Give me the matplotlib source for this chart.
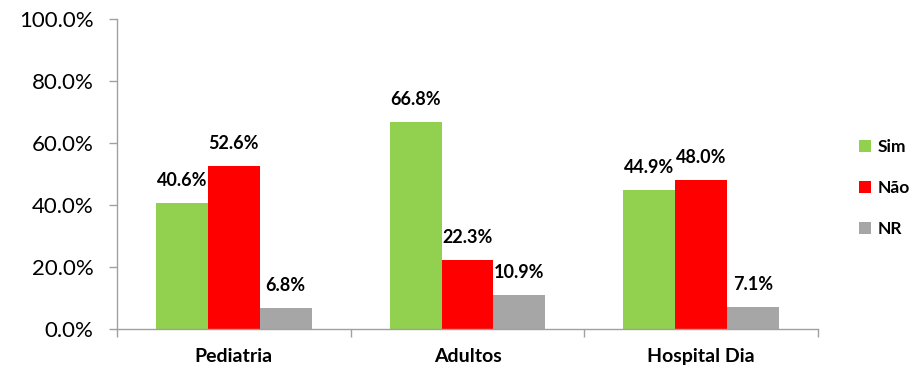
import matplotlib
matplotlib.use("Agg")
import matplotlib.pyplot as plt
import numpy as np
from matplotlib.ticker import FuncFormatter, FixedLocator

plt.rcParams['font.family'] = ['Lato', 'DejaVu Sans']

categories = ["Pediatria", "Adultos", "Hospital Dia"]
series_names = ["Sim", "Não", "NR"]
sim = [40.6, 66.8, 44.9]
nao = [52.6, 22.3, 48.0]
nr = [6.8, 10.9, 7.1]
colors = ["#92D050", "#FF0000", "#A6A6A6"]

fig = plt.figure(figsize=(9.15, 3.67), dpi=100)
ax = fig.add_axes([117/915, 1-329/367, (818-117)/915, (329-19)/367])

x = np.arange(len(categories))
w = 52/234
handles = []
for i, (vals, name, c) in enumerate(zip([sim, nao, nr], series_names, colors)):
    pos = x + (i - 1) * w
    b = ax.bar(pos, vals, width=w, color=c, label=name, zorder=2)
    handles.append(b)
    for p, v in zip(pos, vals):
        ax.annotate(f"{v:.1f}%", (p, v), xytext=(0, 10), textcoords="offset points",
                    ha="center", va="bottom", fontsize=13, fontweight="bold")

ax.set_xlim(-0.5, 2.5)
ax.set_ylim(0, 100)
ax.set_yticks(np.arange(0, 101, 20))
ax.yaxis.set_major_formatter(FuncFormatter(lambda v, p: f"{v:.1f}%"))
ax.tick_params(axis='y', labelsize=16, length=6, color="#A0A0A0", width=1, pad=11)
ax.set_xticks(x)
ax.set_xticklabels(categories, fontsize=14, fontweight="bold")
ax.tick_params(axis='x', which='major', length=0, pad=14)
ax.xaxis.set_minor_locator(FixedLocator([-0.5, 0.5, 1.5, 2.5]))
ax.tick_params(axis='x', which='minor', length=6, color="#A0A0A0", width=1)
for s in ["top", "right"]:
    ax.spines[s].set_visible(False)
for s in ["left", "bottom"]:
    ax.spines[s].set_color("#A0A0A0")
    ax.spines[s].set_linewidth(1)

leg = fig.legend(handles=handles, labels=series_names, loc="center left",
                 bbox_to_anchor=(859/915, 1-188/367), frameon=False, borderpad=0,
                 borderaxespad=0,
                 prop={'size': 12.5, 'weight': 'bold'}, handlelength=0.7, handleheight=0.7,
                 labelspacing=1.45, handletextpad=0.35)

fig.savefig("out.png", dpi=100)
